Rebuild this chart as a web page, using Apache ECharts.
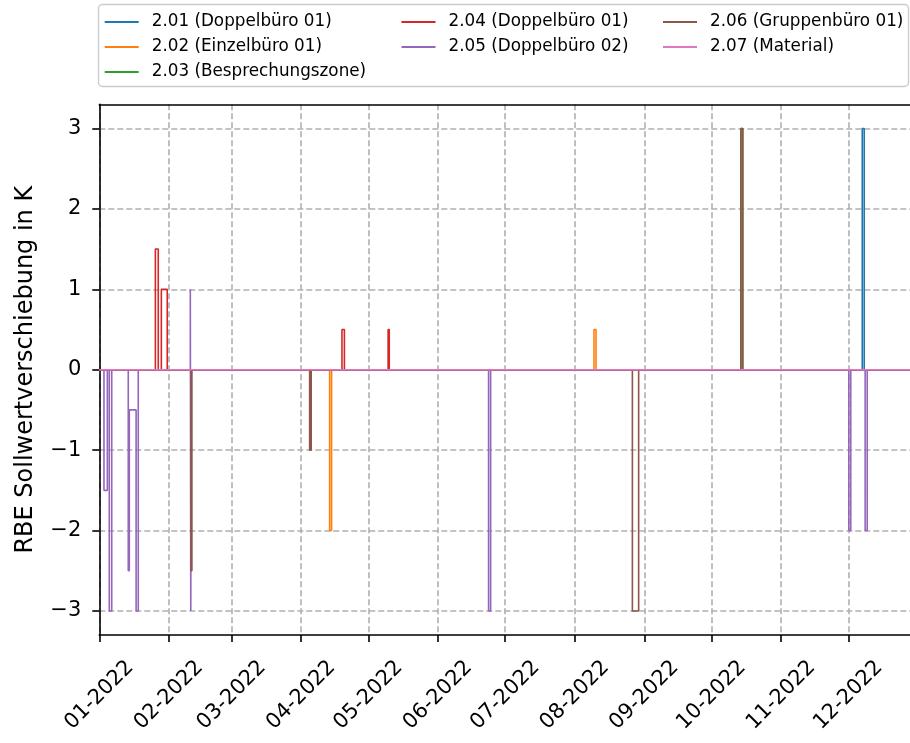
<!DOCTYPE html>
<html>
<head>
<meta charset="utf-8">
<script src="https://cdn.jsdelivr.net/npm/echarts@6/dist/echarts.min.js"></script>
<style>
html,body{margin:0;padding:0;background:#fff;}
#chart{width:910px;height:743px;}
</style>
</head>
<body>
<div id="chart"></div>
<script>
// ---- data ----
const seriesNames = [
  '2.01 (Doppelbüro 01)',
  '2.02 (Einzelbüro 01)',
  '2.03 (Besprechungszone)',
  '2.04 (Doppelbüro 01)',
  '2.05 (Doppelbüro 02)',
  '2.06 (Gruppenbüro 01)',
  '2.07 (Material)'
];
const s201 = [['2022-01-01 00:00',0],['2022-12-07 05:00',3],['2022-12-08 02:00',0],['2022-12-31 23:00',0]];
const s202 = [['2022-01-01 00:00',0],['2022-04-13 17:00',-2],['2022-04-14 14:00',0],
              ['2022-08-09 14:00',0.5],['2022-08-10 12:00',0],['2022-12-31 23:00',0]];
const s203 = [['2022-01-01 00:00',0],['2022-10-14 02:00',3],['2022-10-14 22:00',0],['2022-12-31 23:00',0]];
const s204 = [['2022-01-01 00:00',0],['2022-01-26 00:00',1.5],['2022-01-27 07:00',0],
              ['2022-01-28 16:00',1],['2022-01-31 07:00',0],
              ['2022-04-19 05:00',0.5],['2022-04-20 07:00',0],
              ['2022-05-09 19:00',0.5],['2022-05-10 07:00',0],['2022-12-31 23:00',0]];
const s205 = [['2022-01-01 00:00',0],['2022-01-03 02:00',-1.5],['2022-01-04 14:00',0],
              ['2022-01-05 11:00',-3],['2022-01-06 13:00',0],
              ['2022-01-13 22:00',-2.5],['2022-01-14 09:00',-0.5],['2022-01-17 10:00',-3],['2022-01-18 09:00',0],
              ['2022-02-10 14:00',1],['2022-02-10 19:00',-3],['2022-02-11 00:00',0],
              ['2022-06-23 14:00',-3],['2022-06-24 12:00',0],
              ['2022-12-01 05:00',-2],['2022-12-02 02:00',0],
              ['2022-12-08 12:00',-2],['2022-12-09 10:00',0],['2022-12-31 23:00',0]];
const s206 = [['2022-01-01 00:00',0],['2022-02-10 22:00',-2.5],['2022-02-11 07:00',0],
              ['2022-04-04 19:00',-1],['2022-04-05 12:00',0],
              ['2022-08-26 17:00',-3],['2022-08-29 12:00',0],
              ['2022-10-14 02:00',3],['2022-10-14 22:00',0],['2022-12-31 23:00',0]];
const s207 = [['2022-01-01 00:00',0],['2022-12-31 23:00',0]];
const seriesData = [s201, s202, s203, s204, s205, s206, s207];

const yTicks = [-3, -2, -1, 0, 1, 2, 3];
const xTicks = ['2022-01-01','2022-02-01','2022-03-01','2022-04-01','2022-05-01','2022-06-01',
                '2022-07-01','2022-08-01','2022-09-01','2022-10-01','2022-11-01','2022-12-01'];
const xMin = '2022-01-01 00:00';
const xMax = '2022-12-28 12:00';
const yMin = -3.3, yMax = 3.3;

// ---- styles ----
const colors = ['#1f77b4','#ff7f0e','#2ca02c','#d62728','#9467bd','#8c564b','#e377c2'];
const FONT = 'DejaVu Sans';
const toTs = s => echarts.time.parse(s).getTime();
const xTickTs = xTicks.map(toTs);
const pad2 = n => (n < 10 ? '0' : '') + n;
const fmtMonth = v => { const d = new Date(v); return pad2(d.getMonth() + 1) + '-' + d.getFullYear(); };

const chart = echarts.init(document.getElementById('chart'), null, {renderer: 'canvas'});

const legendCommon = {
  orient: 'vertical', itemGap: 0, padding: 0, itemWidth: 34, itemHeight: 2,
  icon: 'rect', selectedMode: false,
  textStyle: {fontFamily: FONT, fontSize: 16.8, color: '#000', lineHeight: 25, padding: [0,0,0,8]}
};

const option = {
  animation: false,
  backgroundColor: '#fff',
  color: colors,
  grid: {left: 99.3, top: 104.3, right: 0, bottom: 107.9, outerBoundsMode: 'none'},
  legend: [
    Object.assign({}, legendCommon, {left: 104.7, top: 9.5, data: seriesNames.slice(0,3)}),
    Object.assign({}, legendCommon, {left: 401.5, top: 9.5, data: seriesNames.slice(3,5)}),
    Object.assign({}, legendCommon, {left: 663, top: 9.5, data: seriesNames.slice(5,7)})
  ],
  graphic: [{
    type: 'rect', z: -1, silent: true,
    shape: {x: 98.5, y: 4.5, width: 810, height: 82, r: 4},
    style: {fill: 'rgba(255,255,255,0.8)', stroke: '#cccccc', lineWidth: 1.4}
  }],
  xAxis: [{
    type: 'value', min: toTs(xMin), max: toTs(xMax),
    axisLine: {show: true, onZero: false, lineStyle: {color: '#000', width: 1.6}},
    axisTick: {show: true, length: 7, inside: false, lineStyle: {color: '#000', width: 1.6}, customValues: xTickTs},
    axisLabel: {
      customValues: xTickTs,
      rotate: 45, align: 'center', verticalAlign: 'middle', margin: 60,
      fontFamily: FONT, fontSize: 21, color: '#000',
      formatter: v => fmtMonth(v)
    },
    splitLine: {show: true, lineStyle: {color: '#b0b0b0', width: 1.6, type: [6, 3]}}
  }, {
    type: 'value', min: toTs(xMin), max: toTs(xMax), position: 'top',
    axisLine: {show: true, onZero: false, lineStyle: {color: '#000', width: 1.6}},
    axisTick: {show: false}, axisLabel: {show: false}, splitLine: {show: false}
  }],
  yAxis: {
    type: 'value', min: yMin, max: yMax,
    name: 'RBE Sollwertverschiebung in K', nameLocation: 'middle', nameGap: 62,
    nameTextStyle: {fontFamily: FONT, fontSize: 24, color: '#000'},
    axisLine: {show: true, lineStyle: {color: '#000', width: 1.6}},
    axisTick: {show: true, length: 7, lineStyle: {color: '#000', width: 1.6}, customValues: yTicks},
    axisLabel: {
      customValues: yTicks, margin: 18,
      fontFamily: FONT, fontSize: 21, color: '#000',
      formatter: v => (v < 0 ? '\u2212' + (-v) : String(v))
    },
    splitLine: {show: true, lineStyle: {color: '#b0b0b0', width: 1.6, type: [6, 3]}}
  },
  series: seriesNames.map((n, i) => ({
    name: n, type: 'line', step: 'end',
    data: seriesData[i].map(p => [toTs(p[0]), p[1]]),
    showSymbol: false, symbol: 'none', clip: true,
    lineStyle: {width: 1.6, color: colors[i]}, itemStyle: {color: colors[i]},
    emphasis: {disabled: true}
  }))
};
chart.setOption(option);

// keep very short step segments (narrow spikes) instead of letting the renderer drop them
const zr = chart.getZr();
zr.storage.getDisplayList(true).forEach(el => {
  if (el.segmentIgnoreThreshold) {
    el.segmentIgnoreThreshold = 0;
    if (el.createPathProxy) el.createPathProxy();
    if (el.dirtyShape) el.dirtyShape();
    if (el.dirty) el.dirty();
  }
});
zr.refreshImmediately();
</script>
</body>
</html>
